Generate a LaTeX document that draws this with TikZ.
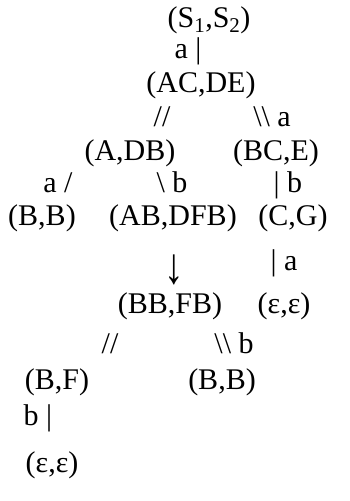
\documentclass[tikz,border=0pt]{standalone}
\usepackage{fontspec}
\setmainfont{Liberation Serif}
\begin{document}
\begin{tikzpicture}[x=1pt,y=-1pt,
    every node/.style={inner sep=0pt,anchor=base,font=\fontsize{30}{36}\selectfont}]
  \useasboundingbox (0,0) rectangle (349,501);

% root and first step
  \node (s12)  at (209,27) {(S\textsubscript{1},S\textsubscript{2})};
  \node (l1)   at (188,58) {a |};
  \node (acde) at (201,92) {(AC,DE)};

% second level
  \node (l2)  at (162,126) {//};
  \node (l3)  at (272,126) {\textbackslash\textbackslash\ a};
  \node (adb) at (130,160) {(A,DB)};
  \node (bce) at (276,160) {(BC,E)};

% third level
  \node (l4)    at (58,192)  {a /};
  \node (l5)    at (172,192) {\textbackslash\ b};
  \node (l6)    at (288,192) {| b};
  \node (bb)    at (42,225)  {(B,B)};
  \node (abdfb) at (173,225) {(AB,DFB)};
  \node (cg)    at (293,225) {(C,G)};

% fourth level
  \node (l7)   at (174,283) {\scalebox{1.3}[1.7]{↓}};
  \node (l8)   at (284,270) {| a};
  \node (bbfb) at (170,313) {(BB,FB)};
  \node (ee1)  at (284,313) {(ε,ε)};

% fifth level
  \node (l9)  at (110,353) {//};
  \node (l10) at (234,353) {\textbackslash\textbackslash\ b};
  \node (bf)  at (57,389)  {(B,F)};
  \node (bb2) at (222,389) {(B,B)};

% last step
  \node (l11) at (38,425) {b |};
  \node (ee2) at (52,472) {(ε,ε)};

\end{tikzpicture}
\end{document}
